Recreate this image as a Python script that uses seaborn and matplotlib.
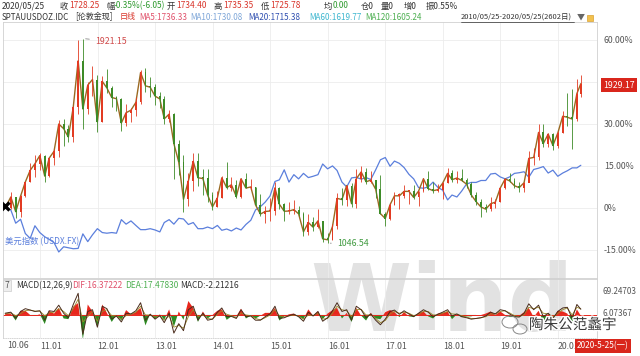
import numpy as np
import pandas as pd
import matplotlib
matplotlib.use("Agg")
import matplotlib.pyplot as plt
import seaborn as sns
from matplotlib.lines import Line2D
from matplotlib.patches import Rectangle, Ellipse
import matplotlib.patheffects as pe

# monthly points, 2010-05-25 .. 2020-05-25 (London gold spot, USD index, MACD)
gold_close = [1197,
    1244, 1181, 1248, 1308, 1358, 1386, 1421,
    1333, 1410, 1439, 1556, 1536, 1500, 1628, 1826, 1620, 1722, 1746, 1565,
    1738, 1710, 1669, 1664, 1560, 1604, 1615, 1648, 1776, 1719, 1713, 1675,
    1663, 1578, 1598, 1472, 1393, 1234, 1313, 1396, 1326, 1323, 1253, 1202,
    1240, 1326, 1284, 1296, 1246, 1322, 1282, 1287, 1210, 1171, 1182, 1184,
    1283, 1213, 1183, 1184, 1190, 1172, 1095, 1135, 1115, 1142, 1065, 1061,
    1118, 1238, 1233, 1293, 1215, 1322, 1351, 1309, 1316, 1277, 1173, 1152,
    1211, 1249, 1249, 1268, 1268, 1242, 1269, 1322, 1280, 1271, 1275, 1303,
    1345, 1318, 1325, 1315, 1299, 1253, 1224, 1201, 1192, 1215, 1222, 1282,
    1321, 1313, 1292, 1284, 1305, 1409, 1413, 1520, 1472, 1513, 1464, 1517,
    1589, 1585, 1577, 1686, 1728.25]
gold_high = [1197,
    1265, 1244, 1254, 1307, 1388, 1424, 1431,
    1424, 1411, 1447, 1575, 1577, 1553, 1632, 1913, 1921.15, 1734, 1803, 1764,
    1763, 1791, 1720, 1676, 1666, 1640, 1625, 1670, 1787, 1796, 1755, 1726,
    1694, 1675, 1617, 1605, 1488, 1424, 1348, 1434, 1433, 1362, 1362, 1267,
    1270, 1333, 1392, 1331, 1315, 1326, 1345, 1322, 1287, 1255, 1207, 1238,
    1307, 1287, 1220, 1224, 1232, 1205, 1181, 1170, 1157, 1191, 1143, 1088,
    1127, 1263, 1283, 1297, 1304, 1362, 1375, 1367, 1353, 1318, 1337, 1180,
    1220, 1264, 1261, 1295, 1270, 1296, 1270, 1326, 1357, 1306, 1299, 1306,
    1366, 1361, 1356, 1365, 1326, 1309, 1265, 1235, 1214, 1243, 1237, 1284,
    1326, 1347, 1324, 1310, 1306, 1439, 1453, 1555, 1557, 1518, 1516, 1524,
    1611, 1689, 1704, 1747, 1765]
gold_low = [1197,
    1192, 1155, 1157, 1242, 1308, 1330, 1360,
    1309, 1330, 1382, 1417, 1462, 1478, 1480, 1600, 1535, 1600, 1676, 1522,
    1564, 1688, 1627, 1612, 1527, 1548, 1564, 1588, 1640, 1693, 1672, 1635,
    1626, 1555, 1563, 1321, 1338, 1180, 1207, 1270, 1292, 1251, 1221, 1187,
    1203, 1238, 1277, 1268, 1240, 1241, 1281, 1272, 1206, 1161, 1131, 1142,
    1167, 1191, 1142, 1170, 1170, 1162, 1077, 1080, 1098, 1113, 1053, 1046.54,
    1062, 1107, 1208, 1207, 1200, 1199, 1310, 1300, 1302, 1241, 1171, 1122,
    1146, 1208, 1194, 1241, 1214, 1237, 1204, 1266, 1275, 1261, 1264, 1236,
    1302, 1307, 1303, 1313, 1282, 1245, 1211, 1160, 1180, 1183, 1196, 1221,
    1276, 1310, 1281, 1266, 1266, 1311, 1382, 1400, 1459, 1459, 1445, 1454,
    1517, 1548, 1451, 1567, 1670]
usd_index = [86.6,
    86.0, 81.9, 83.1, 78.7, 77.2, 81.1, 79.0,
    77.7, 76.9, 75.9, 73.0, 74.6, 74.3, 74.0, 74.1, 78.6, 76.2, 78.3, 80.2,
    79.0, 78.8, 79.0, 78.8, 83.0, 81.6, 82.6, 81.2, 79.9, 79.9, 80.2, 79.8,
    79.2, 82.1, 83.0, 81.6, 83.4, 83.2, 81.5, 82.1, 80.2, 80.2, 80.7, 80.2,
    81.2, 79.7, 80.1, 79.5, 80.4, 79.8, 81.5, 82.8, 86.0, 87.0, 88.4, 90.3,
    94.8, 95.3, 98.4, 94.6, 96.9, 95.6, 97.3, 96.0, 96.4, 96.9, 100.2, 98.7,
    99.6, 98.2, 94.6, 93.1, 95.9, 96.1, 95.5, 96.0, 95.4, 98.4, 101.5, 102.2,
    99.5, 101.1, 100.4, 99.1, 97.0, 95.6, 92.9, 92.7, 93.1, 94.6, 93.0, 92.1,
    89.1, 90.6, 90.0, 91.8, 94.0, 94.5, 94.5, 95.1, 95.1, 97.1, 97.3, 96.2,
    95.6, 96.2, 97.3, 97.5, 97.8, 96.1, 98.5, 98.9, 99.4, 97.4, 98.3, 96.4,
    97.4, 98.1, 99.0, 99.0, 99.8]
dif = [5, 8, -10, 10, 18, 14, 10, 12,
    -15, 12, 10, 28, 5, -8, 30, 62, -55, 10, 15, -35,
    25, 18, -12, -3, -20, 5, 3, 12, 35, -15, 2, -12,
    -2, -22, 5, -52, -25, -45, 15, 25, -15, 5, -15, -12,
    8, 20, -5, -4, -10, 15, -5, -3, -15, -15, -5, 3,
    25, -10, -8, -2, 2, -5, -18, 8, -3, 10, -18, -8,
    12, 35, 10, 15, -15, 25, 15, -8, 3, -15, -28, -12,
    10, 14, 2, 12, 3, -5, 5, 15, 8, -5, 2, 8,
    15, -3, 3, -5, -8, -12, -10, -8, -3, 8, 3, 15,
    12, 3, -5, -6, 5, 32, 15, 28, -5, 5, -10, 10,
    20, 22, -10, 30, 16.37]
dea = [3, 6, -2, 4, 12, 14, 11, 11,
    -2, 6, 8, 18, 10, -2, 18, 45, -20, -5, 10, -18,
    10, 15, -2, -3, -12, -2, 2, 8, 25, 0, 0, -6,
    -3, -15, -3, -35, -30, -38, -5, 15, -5, 0, -10, -12,
    2, 12, 2, -2, -8, 6, 0, -2, -10, -14, -8, 0,
    15, -2, -6, -3, 0, -3, -12, 0, -2, 5, -12, -10,
    5, 25, 15, 12, -5, 15, 16, 0, 0, -10, -22, -16,
    3, 10, 5, 8, 5, -2, 2, 10, 10, 0, 0, 5,
    10, 3, 2, -2, -6, -10, -10, -8, -5, 3, 3, 10,
    12, 6, -2, -5, 1, 22, 18, 22, 5, 3, -5, 4,
    15, 20, 0, 22, 17.48]
tick_years = [2011, 2012, 2013, 2014, 2015, 2016, 2017, 2018, 2019, 2020]
tick_labels = ["11.01", "12.01", "13.01", "14.01", "15.01", "16.01", "17.01", "18.01", "19.01", "20.01"]

sns.set_theme(style="white")
plt.rcParams["font.family"] = ["Noto Sans CJK SC", "DejaVu Sans"]
plt.rcParams["axes.unicode_minus"] = False

W, H = 640, 356
fig = plt.figure(figsize=(6.4, 3.56), dpi=100)
fig.patch.set_facecolor("white")

def box(x0, y0, x1, y1):
    return [x0 / W, 1 - y1 / H, (x1 - x0) / W, (y1 - y0) / H]

ax = fig.add_axes(box(3, 22, 597, 278))
ax2 = fig.add_axes(box(3, 279, 597, 338), sharex=ax)
for a in (ax, ax2):
    a.set_facecolor("none")
    for s in a.spines.values():
        s.set_color("#d0d0d0")
        s.set_linewidth(0.6)

# x positions as fractional years
dates = pd.date_range("2010-05-31", "2020-05-31", freq="ME")
dates = dates.to_series().reset_index(drop=True)
dates.iloc[0] = pd.Timestamp("2010-05-25")
dates.iloc[-1] = pd.Timestamp("2020-05-25")
x = (dates.dt.year + (dates.dt.dayofyear - 1) / 365.25).to_numpy()

base = gold_close[0]
c = (np.array(gold_close) / base - 1) * 100
hi = (np.array(gold_high) / base - 1) * 100
lo = (np.array(gold_low) / base - 1) * 100
o = np.r_[c[0], c[:-1]]
up = c >= o
cols = np.where(up, "#e23b22", "#3d8b27")

# watermark behind everything
fig.text(310 / W, 1 - 331 / H, "Wind", fontsize=66, color="#e2e2e2",
         family="DejaVu Sans", fontweight="bold", zorder=-1)

# candles
gold = pd.DataFrame({"x": x, "pct": c})
sns.lineplot(data=gold, x="x", y="pct", ax=ax, color="#9a6a22", lw=1.0, zorder=3)
ax.vlines(x, lo, hi, colors=cols, lw=0.6, zorder=3)
ax.bar(x, np.maximum(np.abs(c - o), 0.5), bottom=np.minimum(c, o), width=0.032,
       color=cols, linewidth=0, zorder=4)

# dollar index
usd = pd.DataFrame({"x": x, "pct": (np.array(usd_index) / usd_index[0] - 1) * 100})
sns.lineplot(data=usd, x="x", y="pct", ax=ax, color="#5b7fdc", lw=0.9, zorder=2)

ax.plot(x[0], 0.8, marker="x", ms=6, mew=2.4, color="black", zorder=6)

ax.set_xlim(2010.357, 2020.678)
ax.set_ylim(-25, 66.4)
ax.yaxis.tick_right()
ax.set_yticks([60, 45, 30, 15, 0, -15])
ax.set_yticklabels(["60.00%", "", "30.00%", "15.00%", "0%", "-15.00%"])
ax.tick_params(axis="y", length=0, pad=5, labelsize=6.3, labelcolor="#555")
ax.tick_params(axis="x", length=0, labelbottom=False)
ax.set_xticks(tick_years)
ax.grid(True, color="#ececec", lw=0.6)
ax.set_xlabel("")
ax.set_ylabel("")

i_pk = int(np.argmax(gold_high))
i_lo = int(np.argmin(gold_low))
ax.annotate("1921.15", xy=(x[i_pk], hi[i_pk]), xytext=(9, -2), textcoords="offset points",
            fontsize=6.3, color="#d04a4a", va="center",
            arrowprops=dict(arrowstyle="-", color="#888", lw=0.6))
ax.annotate("1046.54", xy=(x[i_lo], lo[i_lo]), xytext=(7, 0), textcoords="offset points",
            fontsize=6.3, color="#3f9a3f", va="center",
            arrowprops=dict(arrowstyle="-", color="#888", lw=0.6))
fig.text(5 / W, 1 - 242 / H, "美元指数 (USDX.FX)", fontsize=6.0, color="#5b7fdc", va="center")

# MACD panel
hist = 2 * (np.array(dif) - np.array(dea))
ax2.fill_between(x, 0, hist, where=hist >= 0, color="#e8261c", interpolate=True, lw=0, zorder=2)
ax2.fill_between(x, 0, hist, where=hist < 0, color="#2c8a22", interpolate=True, lw=0, zorder=2)
ax2.axhline(0, color="#e8261c", lw=0.7, zorder=2)
macd = pd.DataFrame({"x": x, "dif": dif, "dea": dea})
sns.lineplot(data=macd, x="x", y="dea", ax=ax2, color="#9a8a2a", lw=0.6, zorder=3)
sns.lineplot(data=macd, x="x", y="dif", ax=ax2, color="#4a2c1c", lw=0.7, zorder=4)
ax2.set_ylim(-66, 103)
ax2.yaxis.tick_right()
ax2.set_yticks([69.24703, 6.07367])
ax2.set_yticklabels(["69.24703", "6.07367"])
ax2.tick_params(axis="y", length=0, pad=4, labelsize=5.8, labelcolor="#555")
ax2.set_xticks(tick_years)
ax2.set_xticklabels(tick_labels)
ax2.tick_params(axis="x", length=0, pad=3, labelsize=6.3, labelcolor="#555")
for lbl in ax2.get_xticklabels():
    lbl.set_ha("left")
ax2.grid(True, axis="x", color="#ececec", lw=0.6)
ax2.spines["bottom"].set_linestyle(":")
ax2.set_xlabel("")
ax2.set_ylabel("")
fig.text(7 / W, 1 - 346 / H, "10.06", fontsize=6.3, color="#555", va="center")

# MACD header
fig.add_artist(Rectangle((3 / W, 1 - 291 / H), 8 / W, 11 / H, transform=fig.transFigure,
                         facecolor="#eeeeee", edgecolor="#cccccc", lw=0.5))
y_m = 1 - 285.5 / H
for px, t, col in [(5, "7", "#555"), (16, "MACD(12,26,9)", "#333"), (72, "DIF:16.37222", "#e0506a"),
                   (125, "DEA:17.47830", "#4caf50"), (180, "MACD:-2.21216", "#333")]:
    fig.text(px / W, y_m, t, fontsize=6.0, color=col, va="center")

# header rows
y1 = 1 - 6 / H
for px, t, col in [(2, "2020/05/25", "#333"), (60, "收", "#333"), (69, "1728.25", "#d9352b"),
                   (106, "幅", "#333"), (114, "-0.35%(-6.05)", "#2f9a2f"), (167, "开", "#333"),
                   (176, "1734.40", "#d9352b"), (214, "高", "#333"), (223, "1735.35", "#d9352b"),
                   (261, "低", "#333"), (270, "1725.78", "#d9352b"), (324, "均", "#333"),
                   (333, "0.00", "#2f9a2f"), (361, "仓0", "#333"), (381, "量0", "#333"),
                   (404, "增0", "#333"), (426, "振0.55%", "#333")]:
    fig.text(px / W, y1, t, fontsize=6.0, color=col, va="center")
y2 = 1 - 17 / H
for px, t, col, fs in [(2, "SPTAUUSDOZ.IDC", "#333", 5.8), (75, "[伦敦金现]", "#333", 5.8),
                       (120, "日线", "#d9352b", 5.8), (139, "MA5:1736.33", "#e0506a", 5.8),
                       (190, "MA10:1730.08", "#7ea6d8", 5.8), (248, "MA20:1715.38", "#2f4fb0", 5.8),
                       (309, "MA60:1619.77", "#3cb6cf", 5.8), (365, "MA120:1605.24", "#4caf50", 5.8),
                       (461, "2010/05/25-2020/05/25(2602日)", "#333", 5.4), (577, "▼", "#666", 5.8)]:
    fig.text(px / W, y2, t, fontsize=fs, color=col, va="center", family=["Noto Sans CJK SC", "DejaVu Sans"])
fig.add_artist(Line2D([461 / W, 574 / W], [1 - 22 / H, 1 - 22 / H], color="#333", lw=0.5))
fig.add_artist(Rectangle((587 / W, 1 - 21 / H), 6 / W, 6 / H, transform=fig.transFigure,
                         facecolor="#f2c14e", edgecolor="#d9a030", lw=0.5))

# right side boxes
fig.text(619 / W, 1 - 85 / H, "1929.17", fontsize=6.3, color="white", ha="center", va="center",
         bbox=dict(boxstyle="square,pad=0.25", fc="#d9261c", ec="none"))
fig.text(603 / W, 1 - 346 / H, "2020-5-25(一)", fontsize=6.0, color="white", ha="center", va="center",
         bbox=dict(boxstyle="square,pad=0.3", fc="#d9261c", ec="none"))

# wechat mark
fig.add_artist(Ellipse((510 / W, 1 - 322 / H), 16 / W, 12 / H, transform=fig.transFigure,
                       facecolor="none", edgecolor="#888", lw=0.7))
fig.add_artist(Ellipse((520 / W, 1 - 329 / H), 14 / W, 10 / H, transform=fig.transFigure,
                       facecolor="none", edgecolor="#888", lw=0.7))
fig.text(529 / W, 1 - 325 / H, "陶朱公范蠡宇", fontsize=10.5, color="#3a3a3a", va="center",
         path_effects=[pe.withStroke(linewidth=2, foreground="white")])

fig.savefig("out.png", dpi=100)
